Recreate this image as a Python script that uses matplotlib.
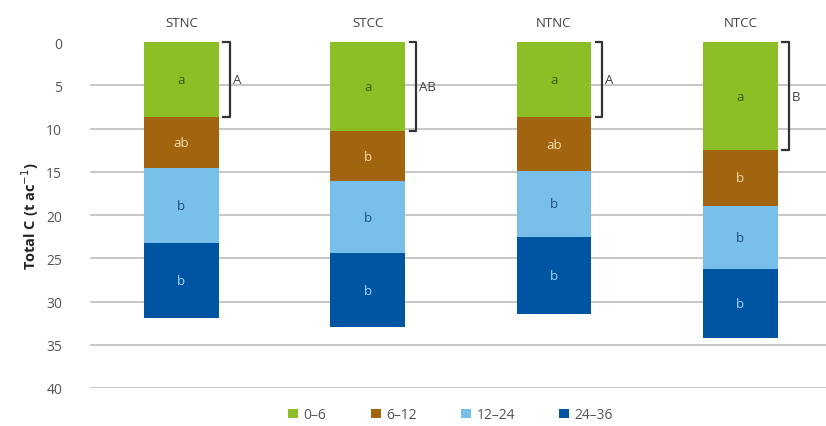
import matplotlib.pyplot as plt
import numpy as np

plt.rcParams['font.family'] = ['Open Sans', 'DejaVu Sans']

# Treatments and depth increments (inches)
treatments = ["STNC", "STCC", "NTNC", "NTCC"]
depths = ["0–6", "6–12", "12–24", "24–36"]

# Total C per depth increment (t/ac)
c_0_6 = [8.7, 10.3, 8.7, 12.5]
c_6_12 = [5.8, 5.8, 6.2, 6.4]
c_12_24 = [8.7, 8.3, 7.6, 7.3]
c_24_36 = [8.7, 8.6, 8.9, 8.0]

# Significance letters within each segment and for the surface layer
seg_letters = [
    ["a", "a", "a", "a"],
    ["ab", "b", "ab", "b"],
    ["b", "b", "b", "b"],
    ["b", "b", "b", "b"],
]
top_letters = ["A", "AB", "A", "B"]

colors = ["#8cbf26", "#a3640f", "#78c0ea", "#0055a2"]
text_colors = ["#3f5a14", "#f3dcae", "#1d4e80", "#a9d2f2"]

fig = plt.figure(figsize=(8.26, 4.27), dpi=100)
ax = fig.add_axes([0.109, 0.089, 0.891, 0.81])

x = np.arange(len(treatments))
width = 0.4
layers = [c_0_6, c_6_12, c_12_24, c_24_36]
bottom = np.zeros(len(treatments))
for vals, col, tcol, lets, lab in zip(layers, colors, text_colors, seg_letters, depths):
    vals = np.array(vals)
    ax.bar(x, vals, width, bottom=bottom, color=col, label=lab, zorder=3)
    for xi, b, v, t in zip(x, bottom, vals, lets):
        ax.text(xi, b + v / 2, t, ha="center", va="center", fontsize=9.5,
                color=tcol, zorder=4)
    bottom = bottom + vals

# brackets around the 0-6 layer
for xi, v, t in zip(x, c_0_6, top_letters):
    bx = xi + width / 2 + 0.06
    ax.plot([bx - 0.035, bx, bx, bx - 0.035], [0, 0, v, v], color="#333333",
            lw=1.6, zorder=4, clip_on=False)
    ax.text(bx + 0.015, v / 2, t, ha="left", va="center", fontsize=9.5,
            color="#404040")

# treatment names on top
for xi, t in zip(x, treatments):
    ax.text(xi, -1.5, t, ha="center", va="bottom", fontsize=9.5, color="#404040")

ax.set_ylim(40, 0)
ax.set_xlim(-0.49, 3.46)
ax.set_yticks(range(0, 41, 5))
ax.set_xticks([])
for y in range(5, 41, 5):
    ax.axhline(y, color="#bdbdbd", lw=1.2, zorder=1)
for s in ax.spines.values():
    s.set_visible(False)
ax.tick_params(axis="y", length=0, labelsize=10, labelcolor="#555555", pad=20)
ax.set_ylabel("Total C (t ac$^{-1}$)", fontsize=10.5, fontweight="bold",
              color="#222222", labelpad=4)

ax.legend(loc="upper center", bbox_to_anchor=(0.49, -0.02), ncol=4,
          frameon=False, fontsize=10, handlelength=0.7, handleheight=0.7,
          columnspacing=3.2, handletextpad=0.4, labelcolor="#555555")

fig.savefig("out.png", dpi=100)
